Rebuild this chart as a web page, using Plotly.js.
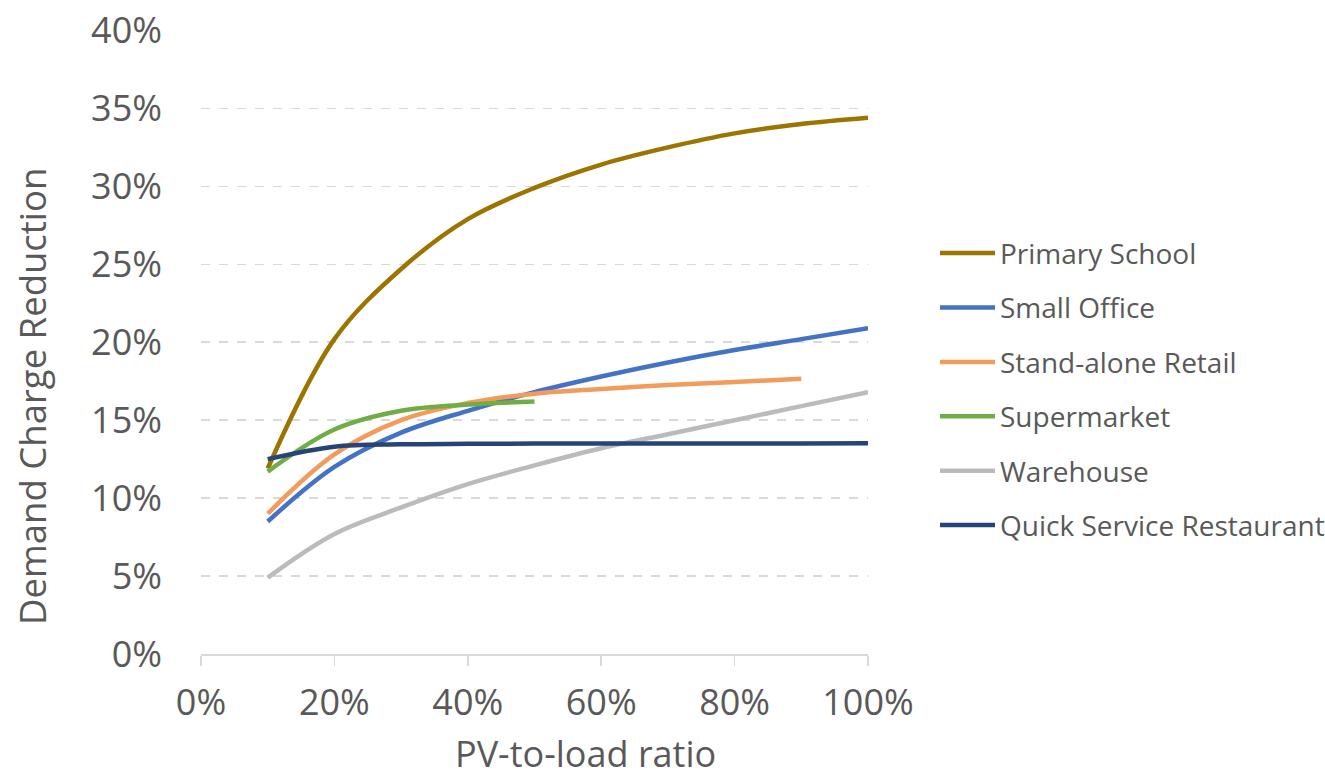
<!DOCTYPE html>
<html>
<head>
<meta charset="utf-8">
<script src="https://cdn.plot.ly/plotly-3.0.1.min.js"></script>
<style>html,body{margin:0;padding:0;background:#fff;}#chart{width:1325px;height:777px;}</style>
</head>
<body>
<div id="chart"></div>
<script>
const pvRatio = [0.10, 0.20, 0.30, 0.40, 0.50, 0.60, 0.70, 0.80, 0.90, 1.00];
const seriesNames = ["Primary School", "Small Office", "Stand-alone Retail", "Supermarket", "Warehouse", "Quick Service Restaurant"];
const primarySchool = [0.119, 0.202, 0.247, 0.279, 0.299, 0.314, 0.325, 0.334, 0.340, 0.344];
const smallOffice = [0.085, 0.120, 0.142, 0.156, 0.168, 0.178, 0.187, 0.195, 0.202, 0.209];
const standaloneRetail = [0.090, 0.128, 0.150, 0.161, 0.167, 0.170, 0.1725, 0.1745, 0.1765];
const supermarket = [0.117, 0.144, 0.156, 0.160, 0.162];
const warehouse = [0.049, 0.077, 0.094, 0.109, 0.121, 0.132, 0.141, 0.150, 0.159, 0.168];
const quickService = [0.125, 0.133, 0.1345, 0.1348, 0.135, 0.135, 0.135, 0.135, 0.135, 0.1352];
const yTickVals = [0, 0.05, 0.10, 0.15, 0.20, 0.25, 0.30, 0.35, 0.40];
const xTickVals = [0, 0.2, 0.4, 0.6, 0.8, 1.0];
const xTitle = "PV-to-load ratio";
const yTitle = "Demand Charge Reduction";

const colors = ["#9C7400", "#4472C4", "#F29B5C", "#70AD47", "#BBBBBB", "#264478"];
const seriesData = [primarySchool, smallOffice, standaloneRetail, supermarket, warehouse, quickService];

const traces = seriesData.map((vals, i) => ({
  type: "scatter",
  mode: "lines",
  name: seriesNames[i],
  legendgroup: "g" + i,
  x: pvRatio.slice(0, vals.length),
  y: vals,
  line: {color: colors[i], width: 4.5, shape: "spline", smoothing: 1},
  hoverinfo: "x+y+name"
}));

const txt = "#595959";
const layout = {
  width: 1325, height: 777,
  margin: {l: 201, r: 457, t: 30, b: 123, autoexpand: false},
  paper_bgcolor: "#ffffff",
  plot_bgcolor: "#ffffff",
  font: {family: "Open Sans, sans-serif", color: txt},
  showlegend: true,
  legend: {
    xref: "container", x: 935 / 1325, xanchor: "left", y: 0.424, yanchor: "middle",
    traceorder: "grouped", tracegroupgap: 15,
    itemwidth: 55,
    font: {family: "Open Sans, sans-serif", size: 28, color: txt},
    bgcolor: "rgba(0,0,0,0)"
  },
  xaxis: {
    range: [0, 1], tickvals: xTickVals, tickformat: ".0%",
    showgrid: false, zeroline: false,
    showline: true, linecolor: "#D9D9D9", linewidth: 1.5,
    ticks: "outside", ticklen: 10, tickcolor: "#D9D9D9", tickwidth: 1.5,
    tickfont: {family: "Open Sans, sans-serif", size: 36, color: txt},
    ticklabelstandoff: 6,
    automargin: false,
    fixedrange: true
  },
  yaxis: {
    range: [0, 0.4003], tickvals: yTickVals, tickformat: ".0%",
    showgrid: true, gridcolor: "#D9D9D9", gridwidth: 1.5, griddash: "dash",
    zeroline: false, showline: false, ticks: "",
    tickfont: {family: "Open Sans, sans-serif", size: 36, color: txt},
    ticklabelstandoff: 38,
    automargin: false,
    fixedrange: true
  },
  annotations: [
    {text: xTitle, xref: "paper", yref: "paper", x: (585 - 201) / 667, y: -(753 - 654) / 624,
     xanchor: "center", yanchor: "middle", showarrow: false,
     font: {family: "Open Sans, sans-serif", size: 36, color: txt}},
    {text: yTitle, xref: "paper", yref: "paper", x: (32 - 201) / 667, y: (654 - 397) / 624,
     xanchor: "center", yanchor: "middle", showarrow: false, textangle: -90,
     font: {family: "Open Sans, sans-serif", size: 36.5, color: txt}}
  ]
};

Plotly.newPlot("chart", traces, layout, {displayModeBar: false, staticPlot: true});
</script>
</body>
</html>
